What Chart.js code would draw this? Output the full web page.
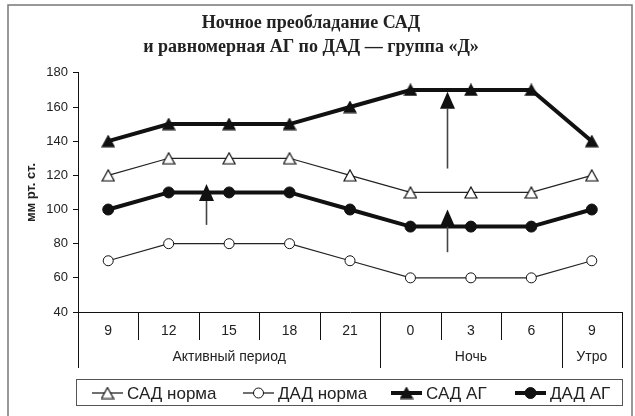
<!DOCTYPE html>
<html lang="ru">
<head>
  <meta charset="UTF-8">
  <title>Ночное преобладание САД</title>
  <script src="https://cdn.jsdelivr.net/npm/chart.js"></script>
  <style>
    html, body { margin:0; padding:0; background:#fff; }
    #wrap { width:635px; height:416px; }
  </style>
</head>
<body>
  <div id="wrap"><canvas id="bp" width="635" height="416"></canvas></div>

  <script>
    // данные
    const hours = ['9', '12', '15', '18', '21', '0', '3', '6', '9'];
    const groups = ['Активный период', 'Ночь', 'Утро'];
    const groupSpans = [5, 3, 1];

    const sadNorm = [120, 130, 130, 130, 120, 110, 110, 110, 120];
    const dadNorm = [70, 80, 80, 80, 70, 60, 60, 60, 70];
    const sadAG = [140, 150, 150, 150, 160, 170, 170, 170, 140];
    const dadAG = [100, 110, 110, 110, 100, 90, 90, 90, 100];

    // стрелки: позиция по оси X (индекс категории), откуда и куда
    const arrowAt = [1.62, 5.6, 5.6];
    const arrowFrom = [91, 124, 75];
    const arrowTo = [115, 169, 100];

    const INK = '#111';

    function triangleImg(filled) {
      const c = document.createElement('canvas');
      c.width = 14; c.height = 13;
      const g = c.getContext('2d');
      g.beginPath();
      g.moveTo(7, 1); g.lineTo(13, 12); g.lineTo(1, 12); g.closePath();
      g.fillStyle = filled ? INK : '#fff';
      g.fill();
      g.strokeStyle = INK; g.lineWidth = 1.2;
      g.stroke();
      return c;
    }
    const triOpen = triangleImg(false);
    const triFull = triangleImg(true);

    const frame = {
      id: 'frame',
      beforeDraw(chart) {
        const ctx = chart.ctx;
        ctx.save();
        ctx.strokeStyle = '#777'; ctx.lineWidth = 1.5;
        ctx.beginPath();
        ctx.moveTo(8, 416); ctx.lineTo(8, 5); ctx.lineTo(632, 5); ctx.lineTo(632, 416);
        ctx.stroke();
        ctx.restore();
      }
    };

    // нижняя часть оси X: часы и периоды
    const lowerAxis = {
      id: 'lowerAxis',
      afterDraw(chart) {
        const {ctx, chartArea, scales: {x}} = chart;
        const y0 = chartArea.bottom;
        const edge = i => x.getPixelForValue(i - 0.5);
        const bounds = [0];
        groupSpans.forEach(s => bounds.push(bounds[bounds.length - 1] + s));

        ctx.save();
        ctx.strokeStyle = INK; ctx.lineWidth = 1;
        for (let i = 0; i <= hours.length; i++) {
          const big = bounds.includes(i);
          const px = Math.round(edge(i)) + 0.5;
          ctx.beginPath();
          ctx.moveTo(px, y0);
          ctx.lineTo(px, y0 + (big ? 56 : 28));
          ctx.stroke();
        }
        ctx.fillStyle = '#222';
        ctx.textAlign = 'center'; ctx.textBaseline = 'middle';
        ctx.font = '14px "Liberation Sans", Arial, sans-serif';
        hours.forEach((h, i) => ctx.fillText(h, x.getPixelForValue(i), y0 + 19));
        groups.forEach((g, k) => {
          const cx = (edge(bounds[k]) + edge(bounds[k + 1])) / 2;
          ctx.fillText(g, cx, y0 + 45);
        });
        ctx.restore();
      }
    };

    const arrows = {
      id: 'arrows',
      afterDatasetsDraw(chart) {
        const {ctx, scales: {x, y}} = chart;
        ctx.save();
        arrowAt.forEach((a, i) => {
          const px = Math.round(x.getPixelForValue(a)) + 0.5;
          const yTail = y.getPixelForValue(arrowFrom[i]);
          const yTip = y.getPixelForValue(arrowTo[i]);
          const headL = 17, headW = 7.5;
          ctx.strokeStyle = '#444'; ctx.lineWidth = 1.6;
          ctx.beginPath();
          ctx.moveTo(px, yTail); ctx.lineTo(px, yTip + headL);
          ctx.stroke();
          ctx.fillStyle = INK;
          ctx.beginPath();
          ctx.moveTo(px, yTip);
          ctx.lineTo(px + headW, yTip + headL);
          ctx.lineTo(px - headW, yTip + headL);
          ctx.closePath();
          ctx.fill();
        });
        ctx.restore();
      }
    };

    const legendBox = {
      id: 'legendBox',
      afterDraw(chart) {
        const ctx = chart.ctx;
        const items = [
          {label: 'САД норма', x: 92, w: 1.2, img: triOpen},
          {label: 'ДАД норма', x: 243, w: 1.2, circle: 'open'},
          {label: 'САД АГ', x: 391, w: 4, img: triFull},
          {label: 'ДАД АГ', x: 515, w: 4, circle: 'full'}
        ];
        const cy = 393;
        ctx.save();
        ctx.strokeStyle = '#555'; ctx.lineWidth = 1;
        ctx.strokeRect(76.5, 379.5, 546, 26);
        ctx.font = '17px "Liberation Sans", Arial, sans-serif';
        ctx.textBaseline = 'middle'; ctx.textAlign = 'left';
        items.forEach(it => {
          ctx.strokeStyle = INK; ctx.lineWidth = it.w;
          ctx.beginPath(); ctx.moveTo(it.x, cy); ctx.lineTo(it.x + 31, cy); ctx.stroke();
          const mx = it.x + 15.5;
          if (it.img) {
            ctx.drawImage(it.img, mx - it.img.width / 2, cy - it.img.height / 2);
          } else {
            ctx.beginPath(); ctx.arc(mx, cy, it.circle === 'full' ? 5.5 : 5, 0, Math.PI * 2);
            ctx.fillStyle = it.circle === 'full' ? INK : '#fff';
            ctx.fill(); ctx.lineWidth = 1; ctx.stroke();
          }
          ctx.fillStyle = '#222';
          ctx.fillText(it.label, it.x + 35, cy + 1);
        });
        ctx.restore();
      }
    };

    Chart.defaults.font.family = '"Liberation Sans", Arial, sans-serif';
    Chart.defaults.color = '#222';

    new Chart(document.getElementById('bp'), {
      type: 'line',
      data: {
        labels: hours,
        datasets: [
          {label: 'САД норма', data: sadNorm, borderColor: '#222', borderWidth: 1.2,
           pointStyle: triOpen, pointRadius: 6},
          {label: 'ДАД норма', data: dadNorm, borderColor: '#222', borderWidth: 1.2,
           pointStyle: 'circle', pointRadius: 5, pointBackgroundColor: '#fff',
           pointBorderColor: INK, pointBorderWidth: 1},
          {label: 'САД АГ', data: sadAG, borderColor: INK, borderWidth: 4,
           pointStyle: triFull, pointRadius: 6},
          {label: 'ДАД АГ', data: dadAG, borderColor: INK, borderWidth: 4,
           pointStyle: 'circle', pointRadius: 5.5, pointBackgroundColor: INK,
           pointBorderColor: INK, pointBorderWidth: 1}
        ]
      },
      options: {
        responsive: false,
        animation: false,
        layout: {padding: {left: 0, top: 0, right: 13, bottom: 104}},
        elements: {line: {tension: 0, fill: false}},
        plugins: {
          legend: {display: false},
          tooltip: {enabled: false},
          title: {
            display: true,
            text: ['Ночное преобладание САД', 'и равномерная АГ по ДАД — группа «Д»'],
            font: {family: '"Liberation Serif", "DejaVu Serif", serif', size: 18, weight: 'bold', lineHeight: 1.33},
            color: '#222',
            padding: {top: 11, bottom: 14}
          }
        },
        scales: {
          x: {
            type: 'category',
            offset: true,
            grid: {display: false},
            ticks: {display: false},
            border: {display: true, color: INK, width: 1},
            afterFit(s) { s.height = 0; }
          },
          y: {
            min: 40, max: 180,
            ticks: {stepSize: 20, font: {size: 13}, padding: 5, color: '#222'},
            grid: {display: true, drawOnChartArea: false, drawTicks: true, tickLength: 5, color: INK},
            border: {display: true, color: INK, width: 1},
            title: {display: true, text: 'мм рт. ст.', font: {size: 13, weight: 'bold'}, padding: {top: 24, bottom: 0}},
            afterFit(s) { s.width = 78; }
          }
        }
      },
      plugins: [frame, lowerAxis, arrows, legendBox]
    });
  </script>
</body>
</html>
